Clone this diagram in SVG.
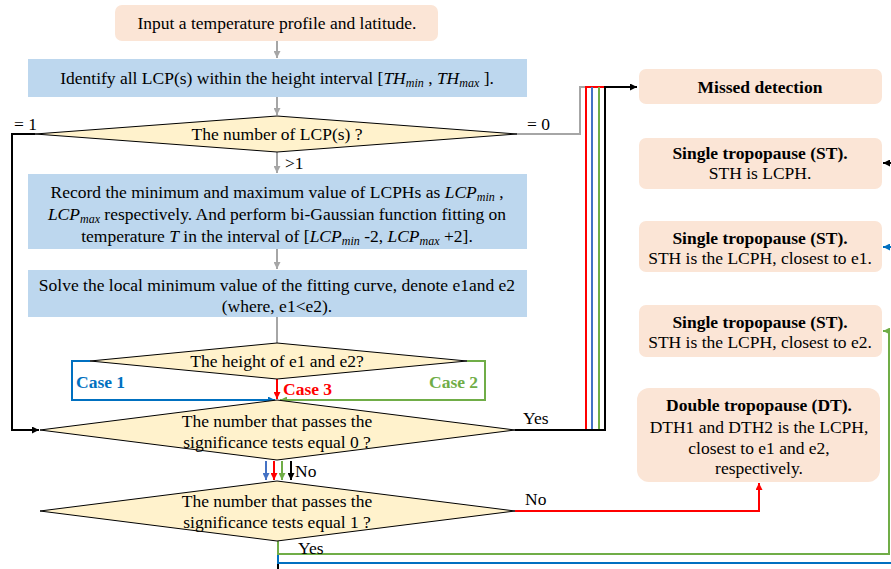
<svg xmlns="http://www.w3.org/2000/svg" width="891" height="569" viewBox="0 0 891 569">
<style>
.t{font-family:"Liberation Serif","Times New Roman",serif;font-size:17.5px;fill:#000}
.b{font-weight:bold}
.m{font-style:italic}
.s{font-style:italic;font-size:12px}
.c{text-anchor:middle}
.pink{fill:#FBE5D6}
.blue{fill:#BDD7EE}
.dia{fill:#FFF2CC;stroke:#000;stroke-width:1}
.ln{fill:none;stroke-width:2}
.g{stroke:#A6A6A6}
.k{stroke:#000}
.r{stroke:#FF0000}
.bl{stroke:#0070C0}
.bb{stroke:#4472C4}
.gr{stroke:#70AD47}
</style>
<defs>
<marker id="aG" markerUnits="userSpaceOnUse" markerWidth="8" markerHeight="7" refX="7" refY="3.5" orient="auto"><path d="M0,0 L7,3.5 L0,7 z" fill="#A6A6A6"/></marker>
<marker id="aK" markerUnits="userSpaceOnUse" markerWidth="8" markerHeight="7" refX="7" refY="3.5" orient="auto"><path d="M0,0 L7,3.5 L0,7 z" fill="#000"/></marker>
<marker id="aR" markerUnits="userSpaceOnUse" markerWidth="8" markerHeight="7" refX="7" refY="3.5" orient="auto"><path d="M0,0 L7,3.5 L0,7 z" fill="#FF0000"/></marker>
<marker id="aB" markerUnits="userSpaceOnUse" markerWidth="8" markerHeight="7" refX="7" refY="3.5" orient="auto"><path d="M0,0 L7,3.5 L0,7 z" fill="#0070C0"/></marker>
<marker id="aBB" markerUnits="userSpaceOnUse" markerWidth="8" markerHeight="7" refX="7" refY="3.5" orient="auto"><path d="M0,0 L7,3.5 L0,7 z" fill="#4472C4"/></marker>
<marker id="aGr" markerUnits="userSpaceOnUse" markerWidth="8" markerHeight="7" refX="7" refY="3.5" orient="auto"><path d="M0,0 L7,3.5 L0,7 z" fill="#70AD47"/></marker>
</defs>

<g id="connectors">
<path class="ln g" d="M277,41 V58" marker-end="url(#aG)"/>
<path class="ln g" d="M277,97 V115" marker-end="url(#aG)"/>
<path class="ln g" d="M277,152 V173" marker-end="url(#aG)"/>
<path class="ln g" d="M277,249 V269" marker-end="url(#aG)"/>
<path class="ln g" d="M277,317 V343"/>
<path class="ln k" d="M35,134 H12 V430 H39" marker-end="url(#aK)"/>
<path class="ln g" d="M517,134 H580 V87 H604"/>
<path class="ln bl" d="M90,361 H72 V400 H275" marker-end="url(#aB)"/>
<path class="ln gr" d="M467,361 H485 V400 H280" marker-end="url(#aGr)"/>
<path class="ln r" d="M277,379 V399" marker-end="url(#aR)"/>
<path class="ln r" d="M515,430 H586 V87 H604"/>
<path class="ln bb" d="M515,430 H592 V87"/>
<path class="ln gr" d="M515,430 H599 V87"/>
<path class="ln k" d="M515,430 H605 V87 H637" marker-end="url(#aK)"/>
<path class="ln bb" d="M266,461 V480" marker-end="url(#aBB)"/>
<path class="ln r" d="M274,461 V480" marker-end="url(#aR)"/>
<path class="ln gr" d="M282,461 V480" marker-end="url(#aGr)"/>
<path class="ln k" d="M291,461 V480" marker-end="url(#aK)"/>
<path class="ln r" d="M515,511 H759 V483" marker-end="url(#aR)"/>
<path class="ln k" d="M278,541 V575"/>
<path class="ln bl" d="M278,541 V563 H895"/>
<path class="ln gr" d="M278,541 V554 H889 V331 H883" marker-end="url(#aGr)"/>
<path class="ln k" d="M895,163 H883" marker-end="url(#aK)"/>
<path class="ln bl" d="M895,247 H883" marker-end="url(#aB)"/>
<text class="t" x="14" y="130">= 1</text>
<text class="t" x="527" y="130">= 0</text>
<text class="t" x="285" y="169">&gt;1</text>
<text class="t b" x="76" y="388" style="fill:#0070C0">Case 1</text>
<text class="t b" x="429" y="388" style="fill:#70AD47">Case 2</text>
<text class="t b" x="283" y="395" style="fill:#FF0000">Case 3</text>
<text class="t" x="523" y="424">Yes</text>
<text class="t" x="295" y="477">No</text>
<text class="t" x="525" y="505">No</text>
<text class="t" x="298" y="554">Yes</text>
</g>

<g id="n-input">
<rect class="pink" x="115" y="5" width="323" height="36" rx="7"/>
<text class="t c" x="277" y="29">Input a temperature profile and latitude.</text>
</g>

<g id="n-identify">
<rect class="blue" x="28" y="59" width="499" height="38"/>
<text class="t c" x="277" y="84">Identify all LCP(s) within the height interval [<tspan class="m">TH</tspan><tspan class="s" dy="3">min</tspan><tspan dy="-3"> , </tspan><tspan class="m">TH</tspan><tspan class="s" dy="3">max</tspan><tspan dy="-3"> ].</tspan></text>
</g>

<g id="n-number">
<polygon class="dia" points="277,116 517,134 277,152 35,134"/>
<text class="t c" x="277" y="140">The number of LCP(s) ?</text>
</g>

<g id="n-record">
<rect class="blue" x="28" y="174" width="499" height="75"/>
<text class="t c" x="277" y="198">Record the minimum and maximum value of LCPHs as <tspan class="m">LCP</tspan><tspan class="s" dy="3">min</tspan><tspan dy="-3"> ,</tspan></text>
<text class="t c" x="277" y="220"><tspan class="m">LCP</tspan><tspan class="s" dy="3">max</tspan><tspan dy="-3">  respectively. And perform bi-Gaussian function fitting on</tspan></text>
<text class="t c" x="277" y="242">temperature <tspan class="m">T</tspan> in the interval of [<tspan class="m">LCP</tspan><tspan class="s" dy="3">min</tspan><tspan dy="-3"> -2, </tspan><tspan class="m">LCP</tspan><tspan class="s" dy="3">max</tspan><tspan dy="-3"> +2].</tspan></text>
</g>

<g id="n-solve">
<rect class="blue" x="28" y="270" width="499" height="47"/>
<text class="t c" x="277" y="291">Solve the local minimum value of the fitting curve, denote e1and e2</text>
<text class="t c" x="277" y="312">(where, e1&lt;e2).</text>
</g>

<g id="n-height">
<polygon class="dia" points="277,343 467,361 277,379 90,361"/>
<text class="t c" x="277" y="367">The height of e1 and e2?</text>
</g>

<g id="n-test0">
<polygon class="dia" points="277,400 515,430 277,460 40,430"/>
<text class="t c" x="277" y="427">The number that passes the</text>
<text class="t c" x="277" y="448">significance tests equal 0 ?</text>
</g>

<g id="n-test1">
<polygon class="dia" points="277,481 515,511 277,541 40,511"/>
<text class="t c" x="277" y="507">The number that passes the</text>
<text class="t c" x="277" y="528">significance tests equal 1 ?</text>
</g>

<g id="n-missed">
<rect class="pink" x="639" y="69" width="243" height="35" rx="7"/>
<text class="t c b" x="760" y="93">Missed detection</text>
</g>

<g id="n-st1">
<rect class="pink" x="639" y="138" width="243" height="51" rx="7"/>
<text class="t c b" x="760" y="159">Single tropopause (ST).</text>
<text class="t c" x="760" y="179">STH is LCPH.</text>
</g>

<g id="n-st2">
<rect class="pink" x="639" y="221" width="243" height="51" rx="7"/>
<text class="t c b" x="760" y="244">Single tropopause (ST).</text>
<text class="t c" x="760" y="264">STH is the LCPH, closest to e1.</text>
</g>

<g id="n-st3">
<rect class="pink" x="639" y="305" width="243" height="52" rx="7"/>
<text class="t c b" x="760" y="328">Single tropopause (ST).</text>
<text class="t c" x="760" y="348">STH is the LCPH, closest to e2.</text>
</g>

<g id="n-dt">
<rect class="pink" x="637" y="388" width="243" height="94" rx="12"/>
<text class="t c b" x="759" y="411">Double tropopause (DT).</text>
<text class="t c" x="759" y="433">DTH1 and DTH2 is the LCPH,</text>
<text class="t c" x="759" y="454">closest to e1 and e2,</text>
<text class="t c" x="759" y="474">respectively.</text>
</g>
</svg>
